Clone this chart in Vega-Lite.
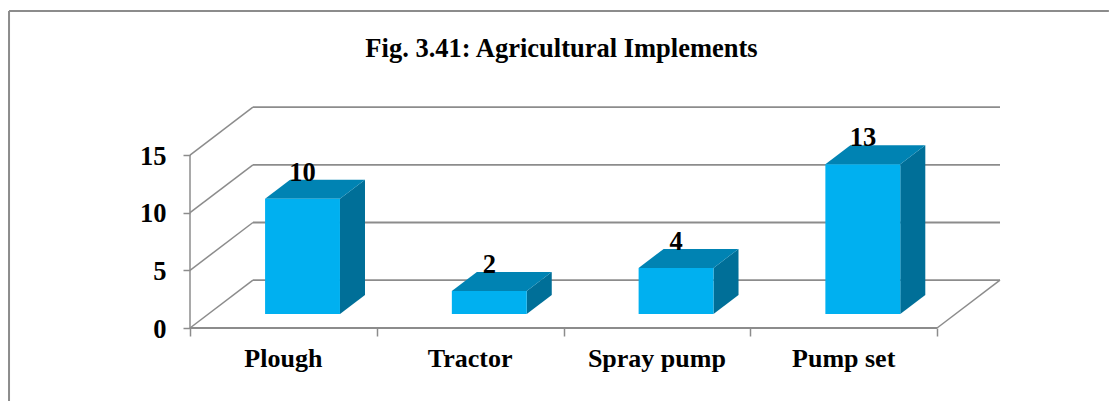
{
 "$schema":"https://vega.github.io/schema/vega-lite/v6.json",
 "autosize":{"type":"none"},
 "padding":{"left":190,"top":105,"right":109,"bottom":73},
 "width":810,"height":223,
 "background":"white",
 "view":{"stroke":null},
 "title":{"text":"Fig. 3.41: Agricultural Implements","font":"Liberation Serif","fontSize":26.5,"fontWeight":"bold","color":"black","anchor":"middle","frame":"group","offset":0,"dy":52,"dx":-33.5},
 "datasets":{
  "bars":[
   {"category":"Plough","idx":0,"value":10},
   {"category":"Tractor","idx":1,"value":2},
   {"category":"Spray pump","idx":2,"value":4},
   {"category":"Pump set","idx":3,"value":13}],
  "grid":[{"level":0},{"level":5},{"level":10},{"level":15}]
 },
 "layer":[
  {"data":{"values":[{}]},"mark":{"type":"rule","stroke":"#8C8C8C","strokeWidth":2},
   "encoding":{"x":{"datum":-0.969,"type":"quantitative","scale":{"domain":[0,4.337],"nice":false,"zero":false},
      "axis":{"values":[0,1,2,3,4],"domain":false,"labels":false,"title":null,"grid":false,"tickColor":"#8C8C8C","tickSize":8,"tickWidth":1.5}},
    "y":{"datum":27.49,"type":"quantitative","scale":{"domain":[0,19.34],"nice":false,"zero":false},
      "axis":{"values":[0,5,10,15],"domain":false,"grid":false,"tickColor":"#8C8C8C","tickSize":7,"tickWidth":1.5,"labelFont":"Liberation Serif","labelFontSize":26.5,"labelFontWeight":"bold","labelColor":"black","labelPadding":17,"labelOffset":1,"title":null}},
    "y2":{"datum":-6.5}}},
  {"data":{"values":[{}]},"mark":{"type":"rule","stroke":"#8C8C8C","strokeWidth":2},
   "encoding":{"x":{"datum":-0.969,"type":"quantitative"},"x2":{"datum":4.92},"y":{"datum":27.49,"type":"quantitative"}}},
  {"data":{"name":"grid"},
   "transform":[{"calculate":"datum.level+4.15","as":"backY"},{"calculate":"0","as":"frontX"},{"calculate":"0.337","as":"backX"}],
   "mark":{"type":"rule","stroke":"#8C8C8C","strokeWidth":1.5},
   "encoding":{"x":{"field":"frontX","type":"quantitative"},"y":{"field":"level","type":"quantitative"},"x2":{"field":"backX"},"y2":{"field":"backY"}}},
  {"data":{"name":"grid"},
   "transform":[{"calculate":"datum.level+4.15","as":"backY"},{"calculate":"0.337","as":"backX"},{"calculate":"4.337","as":"endX"}],
   "mark":{"type":"rule","stroke":"#8C8C8C","strokeWidth":1.8},
   "encoding":{"x":{"field":"backX","type":"quantitative"},"y":{"field":"backY","type":"quantitative"},"x2":{"field":"endX"}}},
  {"data":{"values":[{}]},"mark":{"type":"rule","stroke":"#8C8C8C","strokeWidth":1.5},
   "encoding":{"x":{"datum":0,"type":"quantitative"},"y":{"datum":0,"type":"quantitative"},"y2":{"datum":15}}},
  {"data":{"values":[{}]},"mark":{"type":"rule","stroke":"#8C8C8C","strokeWidth":2},
   "encoding":{"x":{"datum":0,"type":"quantitative"},"x2":{"datum":4},"y":{"datum":0,"type":"quantitative"}}},
  {"data":{"values":[{}]},"mark":{"type":"rule","stroke":"#8C8C8C","strokeWidth":1.5},
   "encoding":{"x":{"datum":4,"type":"quantitative"},"x2":{"datum":4.337},"y":{"datum":0,"type":"quantitative"},"y2":{"datum":4.15}}},
  {"data":{"name":"bars"},
   "transform":[{"calculate":"[0,1]","as":"t"},{"flatten":["t"]},
     {"calculate":"datum.idx+0.803+datum.t*0.134","as":"sx"},
     {"calculate":"1.21+datum.value+datum.t*1.65","as":"sy"},
     {"calculate":"1.21+datum.t*1.65","as":"sy2"}],
   "mark":{"type":"area","color":"#006F98","orient":"vertical"},
   "encoding":{"x":{"field":"sx","type":"quantitative"},"y":{"field":"sy","type":"quantitative"},"y2":{"field":"sy2"},"detail":{"field":"category"}}},
  {"data":{"name":"bars"},
   "transform":[{"calculate":"[0,1]","as":"t"},{"flatten":["t"]},
     {"calculate":"datum.idx+0.402+datum.t*0.134","as":"tx"},
     {"calculate":"datum.idx+0.803+datum.t*0.134","as":"tx2"},
     {"calculate":"1.21+datum.value+datum.t*1.65","as":"ty"}],
   "mark":{"type":"area","color":"#0083B3","orient":"horizontal"},
   "encoding":{"y":{"field":"ty","type":"quantitative"},"x":{"field":"tx","type":"quantitative"},"x2":{"field":"tx2"},"detail":{"field":"category"}}},
  {"data":{"name":"bars"},
   "transform":[{"calculate":"datum.idx+0.402","as":"fx"},{"calculate":"datum.idx+0.803","as":"fx2"},{"calculate":"1.21+datum.value","as":"fy"},{"calculate":"1.21","as":"fy2"}],
   "mark":{"type":"rect","color":"#00B0F0"},
   "encoding":{"x":{"field":"fx","type":"quantitative"},"x2":{"field":"fx2"},"y":{"field":"fy","type":"quantitative"},"y2":{"field":"fy2"}}},
  {"data":{"name":"bars"},
   "transform":[{"calculate":"datum.idx+0.603","as":"lx"},{"calculate":"1.21+datum.value","as":"ly"}],
   "mark":{"type":"text","font":"Liberation Serif","fontSize":26.5,"fontWeight":"bold","color":"black","baseline":"middle","dy":-26},
   "encoding":{"x":{"field":"lx","type":"quantitative"},"y":{"field":"ly","type":"quantitative"},"text":{"field":"value"}}},
  {"data":{"name":"bars"},
   "transform":[{"calculate":"datum.idx+0.5","as":"cx"},{"calculate":"0","as":"cy"}],
   "mark":{"type":"text","font":"Liberation Serif","fontSize":26,"fontWeight":"bold","color":"black","baseline":"middle","dy":31},
   "encoding":{"x":{"field":"cx","type":"quantitative"},"y":{"field":"cy","type":"quantitative"},"text":{"field":"category"}}}
 ]
}
